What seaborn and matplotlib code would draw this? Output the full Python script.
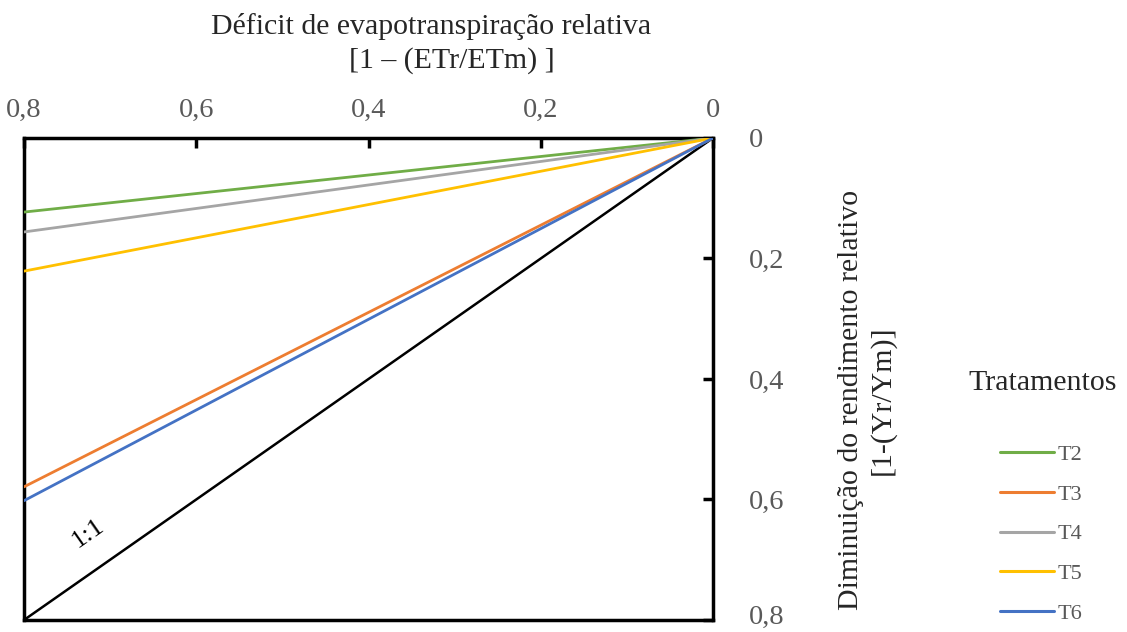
import matplotlib
matplotlib.use("Agg")
import matplotlib.pyplot as plt
import matplotlib.transforms as mtransforms
import seaborn as sns
import pandas as pd

treatments = ["T2", "T3", "T4", "T5", "T6"]
end_values = [0.123, 0.579, 0.156, 0.221, 0.602]
colors = ["#70AD47", "#ED7D31", "#A5A5A5", "#FFC000", "#4472C4"]
deficit_x = [0.0, 0.8]
x_ticks = [0.8, 0.6, 0.4, 0.2, 0.0]
x_tick_labels = ["0,8", "0,6", "0,4", "0,2", "0"]
y_ticks = [0.0, 0.2, 0.4, 0.6, 0.8]
y_tick_labels = ["0", "0,2", "0,4", "0,6", "0,8"]

rows = []
for t, v in zip(treatments, end_values):
    rows.append({"x": deficit_x[0], "y": 0.0, "Tratamento": t})
    rows.append({"x": deficit_x[1], "y": v, "Tratamento": t})
df = pd.DataFrame(rows)

sns.set_style("white")
plt.rcParams["font.family"] = ["Liberation Serif", "DejaVu Serif"]

fig = plt.figure(figsize=(11.27, 6.32), dpi=100)
ax = fig.add_axes([0.0213, 0.019, 0.6114, 0.7627])

# 1:1 line
ax.plot(deficit_x, deficit_x, color="black", lw=1.8, zorder=2)
sns.lineplot(data=df, x="x", y="y", hue="Tratamento", palette=colors,
             hue_order=treatments, lw=2.0, ax=ax, legend=False, zorder=3)

ax.set_xlim(0.8, 0.0)
ax.set_ylim(0.8, 0.0)
ax.xaxis.tick_top()
ax.yaxis.tick_right()
ax.set_xticks(x_ticks)
ax.set_xticklabels(x_tick_labels)
ax.set_yticks(y_ticks)
ax.set_yticklabels(y_tick_labels)
ax.tick_params(axis="both", direction="in", length=7, width=2.5, colors="black",
               labelcolor="#595959", labelsize=20.5)
ax.tick_params(axis="x", pad=11)
ax.tick_params(axis="y", pad=26)
last = ax.get_yticklabels()[-1]
last.set_transform(last.get_transform() +
                   mtransforms.ScaledTranslation(0, 4 / 72, fig.dpi_scale_trans))
for s in ax.spines.values():
    s.set_linewidth(2.5)
    s.set_color("black")
ax.set_xlabel("")
ax.set_ylabel("")

ax.text(0.726, 0.656, "1:1", rotation=35, fontsize=19, ha="center", va="center",
        color="black", transform=ax.transData)

fig.text(431 / 1127, 1 - 26 / 632, "Déficit de evapotranspiração relativa",
         ha="center", va="center", fontsize=21.5)
fig.text(452 / 1127, 1 - 61 / 632, "[1 – (ETr/ETm) ]",
         ha="center", va="center", fontsize=21.5)

fig.text(851 / 1127, 1 - 400 / 632, "Diminuição do rendimento relativo",
         ha="center", va="center", rotation=90, fontsize=21.5)
fig.text(882 / 1127, 1 - 400 / 632, "[1-(Yr/Ym)]",
         ha="center", va="center", rotation=90, fontsize=21.5)

fig.text(1043 / 1127, 1 - 383 / 632, "Tratamentos", ha="center", va="center",
         fontsize=21.5)

handles = [plt.Line2D([], [], color=c, lw=2.2) for c in colors]
leg = fig.legend(handles, treatments, loc="upper left",
                 bbox_to_anchor=(996 / 1127, 1 - 440 / 632), frameon=False,
                 fontsize=16, handlelength=2.4, labelspacing=0.86,
                 handletextpad=0.15, labelcolor="#595959",
                 borderaxespad=0, borderpad=0.2)

fig.savefig("out.png", dpi=100)
